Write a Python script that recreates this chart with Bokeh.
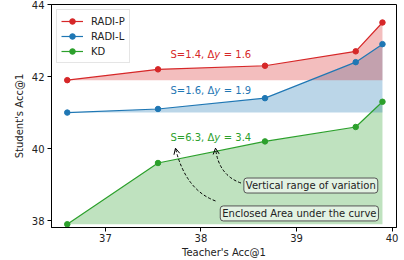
from bokeh.plotting import figure
from bokeh.models import Range1d, FixedTicker, Label, Arrow, OpenHead, Legend
from bokeh.embed import file_html
from bokeh.resources import INLINE

teacher_acc = [36.6, 37.55, 38.67, 39.62, 39.9]
radi_p = [41.9, 42.2, 42.3, 42.7, 43.5]
radi_l = [41.0, 41.1, 41.4, 42.4, 42.9]
kd = [37.9, 39.6, 40.2, 40.6, 41.3]
series_names = ["RADI-P", "RADI-L", "KD"]
series_colors = ["#d62728", "#1f77b4", "#2ca02c"]
area_values = [1.4, 1.6, 6.3]
x_ticks = [37, 38, 39, 40]
y_ticks = [38, 40, 42, 44]

FONT = "DejaVu Sans"

p = figure(width=404, height=260, output_backend="svg", toolbar_location=None,
           x_range=Range1d(36.435, 40.047), y_range=Range1d(37.81, 44.0),
           min_border_left=51, min_border_right=8, min_border_top=4, min_border_bottom=32)
p.background_fill_color = "white"
p.border_fill_color = "white"
p.outline_line_color = "black"
p.outline_line_width = 1
p.grid.visible = False

for ax in (p.xaxis[0], p.yaxis[0]):
    ax.axis_line_color = "black"
    ax.major_tick_in = 0
    ax.major_tick_out = 4
    ax.minor_tick_line_color = None
    ax.major_label_text_font = FONT
    ax.major_label_text_font_size = "10px"
    ax.major_label_text_color = "#222222"
    ax.axis_label_text_font = FONT
    ax.axis_label_text_font_size = "10px"
    ax.axis_label_text_font_style = "normal"
    ax.axis_label_text_color = "#222222"
    ax.major_label_standoff = 2
    ax.axis_label_standoff = 2
p.yaxis[0].major_label_standoff = 3
p.yaxis[0].axis_label_standoff = 4
p.xaxis.ticker = FixedTicker(ticks=x_ticks)
p.yaxis.ticker = FixedTicker(ticks=y_ticks)
p.xaxis.axis_label = "Teacher's Acc@1"
p.yaxis.axis_label = "Student's Acc@1"

all_series = [radi_p, radi_l, kd]

# fills (KD first, then RADI-L, then RADI-P)
for ys, c in zip(reversed(all_series), reversed(series_colors)):
    base = [min(ys)] * len(ys)
    p.varea(x=teacher_acc, y1=base, y2=ys, fill_color=c, fill_alpha=0.3)

legend_items = []
for name, ys, c in zip(series_names, all_series, series_colors):
    r1 = p.line(teacher_acc, ys, line_color=c, line_width=1.2)
    r2 = p.scatter(teacher_acc, ys, size=5.5, fill_color=c, line_color=c)
    legend_items.append((name, [r1, r2]))

legend = Legend(items=legend_items, location="top_left")
legend.label_text_font = FONT
legend.label_text_font_size = "10px"
legend.label_text_color = "#222222"
legend.glyph_width = 22
legend.glyph_height = 14
legend.label_height = 14
legend.spacing = 1
legend.padding = 4
legend.margin = 5
legend.label_standoff = 8
legend.border_line_color = "#cccccc"
legend.background_fill_alpha = 0.8
p.add_layout(legend)

# S / delta-y texts
text_x = 37.68
text_y = [42.6, 41.61, 40.3]
fs = 10.0
for s, ys, c, ty in zip(area_values, all_series, series_colors, text_y):
    dy = max(ys) - min(ys)
    common = dict(x=text_x, y=ty, text_font=FONT, text_font_size=f"{fs}px",
                  text_color=c, text_baseline="middle")
    pre = f"S={s:.1f}, Δ"
    p.add_layout(Label(text=pre, text_align="left", **common))
    off = 4.383 * fs
    p.add_layout(Label(text="y", text_align="left", x_offset=off, text_font_style="italic", **common))
    p.add_layout(Label(text=f"= {dy:.1f}", text_align="left", x_offset=off + 0.95 * fs, **common))

# annotation boxes
box_texts = ["Vertical range of variation", "Enclosed Area under the curve"]
box_pos = [(39.15, 38.975), (39.03, 38.2)]
for t, (bx, by) in zip(box_texts, box_pos):
    p.add_layout(Label(x=bx, y=by, text=t, text_align="center", text_baseline="middle",
                       text_font=FONT, text_font_size="10px", text_color="#222222",
                       background_fill_color="white", background_fill_alpha=0.55,
                       border_line_color="#555555", border_line_width=1,
                       padding=2, border_radius=3))

# curved dashed arrows: (start, control, head)
arrows = [
    ((38.419, 39.044), (38.183, 39.265), (38.152, 40.011)),
    ((38.152, 38.547), (37.838, 38.851), (37.733, 40.011)),
]
for (sx, sy), (cx, cy), (hx, hy) in arrows:
    p.quadratic(x0=[sx], y0=[sy], x1=[hx], y1=[hy], cx=[cx], cy=[cy],
                line_color="black", line_width=1, line_dash="3 2")
    ax0 = hx + 0.05 * (cx - hx)
    ay0 = hy + 0.05 * (cy - hy)
    p.add_layout(Arrow(end=OpenHead(size=6, line_width=1, line_color="black"),
                       x_start=ax0, y_start=ay0, x_end=hx, y_end=hy,
                       line_alpha=0))

open("out.html", "w").write(file_html(p, INLINE))
